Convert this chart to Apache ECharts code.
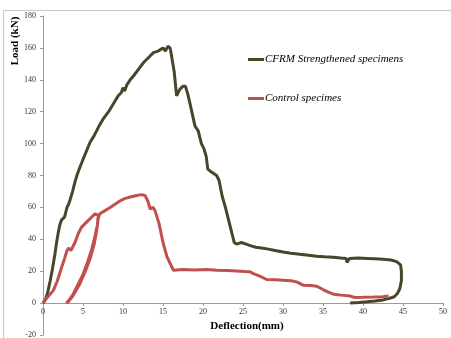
<!DOCTYPE html>
<html>
<head>
<meta charset="utf-8">
<script src="https://cdn.jsdelivr.net/npm/echarts@6/dist/echarts.min.js"></script>
<style>html,body{margin:0;padding:0;background:#fff;}#c{width:451px;height:338px;}</style>
</head>
<body>
<div id="c"></div>
<script>
const seriesNames = ['CFRM Strengthened specimens', 'Control specimes'];
const xTicks = { min: 0, max: 50, interval: 5 };
const yTicks = { min: -20, max: 180, interval: 20 };

const cfrmX = [0,0.3,0.6,0.9,1.2,1.5,1.7,1.9,2.1,2.3,2.5,2.7,2.8,3.0,3.2,3.4,3.7,4.0,4.3,4.6,5.0,5.4,5.9,6.4,7.0,7.6,8.2,8.8,9.4,9.8,10.0,10.2,10.5,10.9,11.4,12.0,12.6,13.2,13.8,14.4,15.0,15.3,15.6,15.9,16.1,16.4,16.7,16.9,17.1,17.5,17.8,18.1,18.6,19.0,19.4,19.8,20.1,20.4,20.6,21.1,21.7,22.0,22.4,22.8,23.2,23.6,23.9,24.2,24.8,25.4,25.9,26.6,27.3,28.0,29.0,30.0,31.0,32.1,33.2,34.2,35.2,36.3,37.2,37.9,38.0,38.3,39.4,40.5,41.5,42.5,43.5,44.2,44.7,44.8,44.8,44.6,44.3,43.9,43.2,42.5,41.5,40.5,39.5,38.4];
const cfrmY = [0,2,7,14,22,31,38,44,49,52,53,54,53,60,62,65,70,76,81,85,90,95,101,105,111,116,120,125,130,132,135,133,137,140,143,147,151,154,157,158,160,158,161,160,160,145,130,129,134,136,136,131,120,111,108,100,97,92,84,82,80,77,67,60,52,44,38,37,38,37,36,35,34.5,34,33,32,31.3,30.6,30,29.4,29,28.8,28.3,28,25.5,28,28.2,28,27.8,27.5,27,26,24,20,14,9,6,4,2.8,2,1.3,0.8,0.4,0];

const ctrlX = [0,0.3,0.8,1.3,1.8,2.3,2.7,3.0,3.2,3.5,3.7,4.0,4.4,4.8,5.2,5.7,6.1,6.5,6.9,6.8,6.5,6.1,5.6,5.0,4.3,3.7,3.2,2.9,3.2,3.8,4.6,5.3,5.9,6.4,6.7,6.9,7.1,7.6,8.4,9.0,9.6,10.2,10.9,11.3,11.7,12.3,12.75,13.1,13.4,13.75,14.0,14.5,15.0,15.5,16.3,17.5,19.0,20.5,21.7,23.0,24.2,25.2,25.9,26.3,27.1,27.96,29.0,30.0,31.0,31.7,32.5,33.5,34.2,35.0,35.6,36.3,37.3,38.4,39.0,40.0,41.3,42.5,43.2];
const ctrlY = [0,2,5,8,14,22,28,33,34.5,33,35,38,43.5,47.5,49.5,52,54,56,55,49,42,34,26,18,11,5,1.5,0,1,5,12,20,28,37,45,53,56,57.5,60,62,64,65.5,66.5,67,67.5,68,67.5,64,59,60,58,50,38,29,20.6,21,20.8,21,20.6,20.5,20.2,19.8,19.6,18.5,16.9,14.8,14.6,14.4,14.0,13.3,11.25,11,10.6,8.5,7,5.6,5,4.4,3.5,3.6,3.8,4,4.4];

const zip = (xs, ys) => xs.map((x, i) => [x, ys[i]]);
const serif = '"Liberation Serif", "DejaVu Serif", serif';

const chart = echarts.init(document.getElementById('c'), null, { renderer: 'canvas' });
chart.setOption({
  backgroundColor: '#fff',
  animation: false,
  grid: { left: 43, right: 8, top: 16, bottom: 3, containLabel: false, outerBoundsMode: 'none' },
  legend: {
    orient: 'vertical',
    left: 243, top: 49,
    itemWidth: 16, itemHeight: 3, itemGap: 28,
    icon: 'rect',
    textStyle: { fontFamily: serif, fontStyle: 'italic', fontSize: 11, color: '#000', padding: [0, 0, 0, -4] },
    data: seriesNames
  },
  xAxis: {
    type: 'value', min: xTicks.min, max: xTicks.max, interval: xTicks.interval,
    offset: -32,
    axisLine: { onZero: false, lineStyle: { color: '#9a9a9a', width: 1 } },
    axisTick: { show: true, length: 3, lineStyle: { color: '#9a9a9a' } },
    axisLabel: { fontFamily: serif, fontSize: 8, color: '#333', margin: 5 },
    splitLine: { show: false },
    name: 'Deflection(mm)', nameLocation: 'middle', nameGap: 17,
    nameTextStyle: { fontFamily: serif, fontWeight: 'bold', fontSize: 11, color: '#000', padding: [0, 0, 0, 8] }
  },
  yAxis: {
    type: 'value', min: yTicks.min, max: yTicks.max, interval: yTicks.interval,
    axisLine: { show: true, onZero: false, lineStyle: { color: '#9a9a9a', width: 1 } },
    axisTick: { show: true, length: 3, lineStyle: { color: '#9a9a9a' } },
    axisLabel: { fontFamily: serif, fontSize: 8, color: '#333', margin: 7 },
    splitLine: { show: false }
  },
  graphic: [
    { type: 'rect', shape: { x: 3.5, y: 10.5, width: 470, height: 340 }, style: { fill: 'none', stroke: '#c8c8c8', lineWidth: 1 }, silent: true, z: -1 },
    { type: 'text', x: 15, y: 41, rotation: Math.PI / 2,
      style: { text: 'Load (kN)', font: 'bold 11px ' + serif, fill: '#000', textAlign: 'center', textVerticalAlign: 'middle' } }
  ],
  series: [
    { name: seriesNames[0], type: 'line', data: zip(cfrmX, cfrmY), showSymbol: false, symbol: 'none',
      lineStyle: { color: '#494529', width: 3 }, itemStyle: { color: '#494529' }, z: 2 },
    { name: seriesNames[1], type: 'line', data: zip(ctrlX, ctrlY), showSymbol: false, symbol: 'none',
      lineStyle: { color: '#c0504d', width: 3 }, itemStyle: { color: '#c0504d' }, z: 3 }
  ]
});
</script>
</body>
</html>
